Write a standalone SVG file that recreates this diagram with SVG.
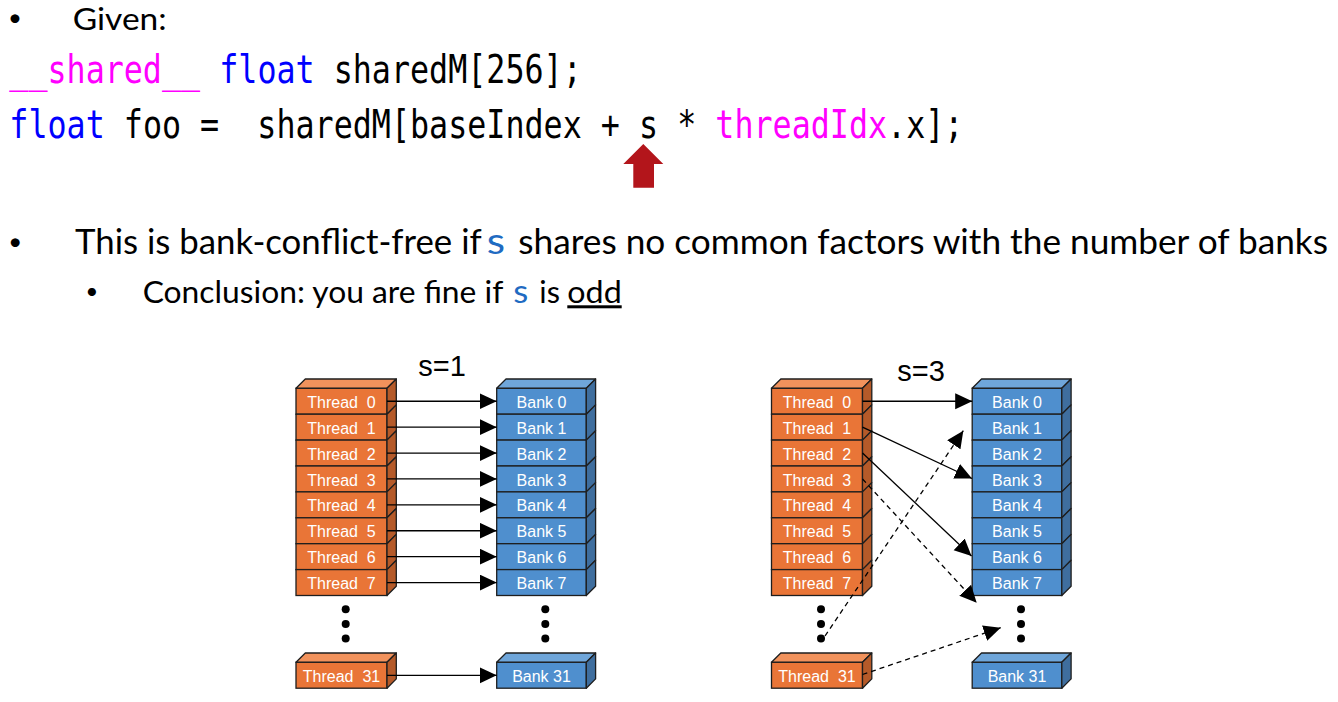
<svg xmlns="http://www.w3.org/2000/svg" xmlns:xlink="http://www.w3.org/1999/xlink" width="1338" height="702" viewBox="0 0 1338 702">
<style>
.body{font-family:Lato,"Open Sans","Liberation Sans",sans-serif;fill:#000}
.blue{fill:#1F6BC2}
.code{font-family:"DejaVu Sans Mono","Liberation Mono",monospace;font-size:31.7px;fill:#000}
.mag{fill:#FF00FF}
.kw{fill:#0000FF}
.tf{fill:#E97537;stroke:#1E1E1E;stroke-width:1.3}
.ts{fill:#B55A29;stroke:#1E1E1E;stroke-width:1.3;stroke-linejoin:round}
.tt{fill:#F1925C;stroke:#1E1E1E;stroke-width:1.3;stroke-linejoin:round}
.bf{fill:#4F8FCE;stroke:#1E1E1E;stroke-width:1.3}
.bs{fill:#3F6E9E;stroke:#1E1E1E;stroke-width:1.3;stroke-linejoin:round}
.bt{fill:#6FA6DA;stroke:#1E1E1E;stroke-width:1.3;stroke-linejoin:round}
.lbl{font-family:"Liberation Sans",Arial,sans-serif;font-size:16px;fill:#fff;text-anchor:middle;white-space:pre}
.title{font-family:"Liberation Sans",Arial,sans-serif;font-size:29px;fill:#000;text-anchor:middle}
.c{stroke:#000;stroke-width:1.3;fill:none}
.d{stroke:#000;stroke-width:1.3;fill:none;stroke-dasharray:5,4}
.dot{fill:#000}
</style>
<defs>
<marker id="ah" markerUnits="userSpaceOnUse" markerWidth="18" markerHeight="17" refX="17" refY="8" orient="auto">
<path d="M0,0 L17,8 L0,16 Z" fill="#000"/>
</marker>
<g id="trow"><rect x="0" y="0" width="91" height="25.9" class="tf"/><polygon points="91,0 100.3,-9.3 100.3,16.6 91,25.9" class="ts"/></g>
<g id="ttop"><polygon points="0,0 9.3,-9.3 100.3,-9.3 91,0" class="tt"/></g>
<g id="brow"><rect x="0" y="0" width="89.6" height="25.9" class="bf"/><polygon points="89.6,0 98.9,-9.3 98.9,16.6 89.6,25.9" class="bs"/></g>
<g id="btop"><polygon points="0,0 9.3,-9.3 98.9,-9.3 89.6,0" class="bt"/></g>
</defs>

<g id="text-top">
<text class="body" x="15" y="26" font-size="24" text-anchor="middle">•</text>
<text class="body" x="72.7" y="29.5" font-size="30" textLength="94" lengthAdjust="spacingAndGlyphs">Given:</text>
<text class="code" transform="translate(9.3,83.3) scale(1,1.25)" xml:space="preserve"><tspan class="mag">__shared__</tspan> <tspan class="kw">float</tspan> sharedM[256];</text>
<text class="code" transform="translate(9.3,138.3) scale(1,1.25)" xml:space="preserve"><tspan class="kw">float</tspan> foo =  sharedM[baseIndex + s * <tspan class="mag">threadIdx</tspan>.x];</text>
<polygon id="red-arrow" points="643.3,144 663.3,164 654,164 654,187.7 633.3,187.7 633.3,164 623.3,164" fill="#B3151B"/>
<text class="body" x="15.3" y="250" font-size="24" text-anchor="middle">•</text>
<text class="body" x="75" y="254.3" font-size="34" textLength="406.7" lengthAdjust="spacingAndGlyphs">This is bank-conflict-free if</text>
<text class="body blue" x="486.7" y="254.3" font-size="36" textLength="18.3" lengthAdjust="spacingAndGlyphs">s</text>
<text class="body" x="518.3" y="254.3" font-size="34" textLength="809.7" lengthAdjust="spacingAndGlyphs">shares no common factors with the number of banks</text>
<text class="body" x="92" y="299" font-size="22" text-anchor="middle">•</text>
<text class="body" x="142.7" y="303.3" font-size="30" textLength="360.6" lengthAdjust="spacingAndGlyphs">Conclusion: you are fine if</text>
<text class="body blue" x="513.3" y="303.3" font-size="32" textLength="15" lengthAdjust="spacingAndGlyphs">s</text>
<text class="body" x="539.3" y="303.3" font-size="30" textLength="20.7" lengthAdjust="spacingAndGlyphs">is</text>
<text class="body" x="567.3" y="303.3" font-size="30" textLength="54.4" lengthAdjust="spacingAndGlyphs" text-decoration="underline">odd</text>
</g>

<text id="title-s1" class="title" x="442" y="375.5">s=1</text>
<text id="title-s3" class="title" x="921" y="380.5">s=3</text>

<!-- Left diagram: threads -->
<g id="l-thread-0" transform="translate(296,388.3)"><use href="#ttop"/><use href="#trow"/><text class="lbl" x="45.5" y="19.6">Thread  0</text></g>
<g id="l-thread-1" transform="translate(296,414.2)"><use href="#trow"/><text class="lbl" x="45.5" y="19.6">Thread  1</text></g>
<g id="l-thread-2" transform="translate(296,440.1)"><use href="#trow"/><text class="lbl" x="45.5" y="19.6">Thread  2</text></g>
<g id="l-thread-3" transform="translate(296,466)"><use href="#trow"/><text class="lbl" x="45.5" y="19.6">Thread  3</text></g>
<g id="l-thread-4" transform="translate(296,491.9)"><use href="#trow"/><text class="lbl" x="45.5" y="19.6">Thread  4</text></g>
<g id="l-thread-5" transform="translate(296,517.8)"><use href="#trow"/><text class="lbl" x="45.5" y="19.6">Thread  5</text></g>
<g id="l-thread-6" transform="translate(296,543.7)"><use href="#trow"/><text class="lbl" x="45.5" y="19.6">Thread  6</text></g>
<g id="l-thread-7" transform="translate(296,569.6)"><use href="#trow"/><text class="lbl" x="45.5" y="19.6">Thread  7</text></g>
<g id="l-thread-dots"><circle class="dot" cx="345.7" cy="609.3" r="4"/><circle class="dot" cx="345.7" cy="624" r="4"/><circle class="dot" cx="345.7" cy="638.5" r="4"/></g>
<g id="l-thread-31" transform="translate(296,662.3)"><use href="#ttop"/><use href="#trow"/><text class="lbl" x="45.5" y="19.9">Thread  31</text></g>

<!-- Left diagram: banks -->
<g id="l-bank-0" transform="translate(496.7,388.3)"><use href="#btop"/><use href="#brow"/><text class="lbl" x="44.8" y="19.6">Bank 0</text></g>
<g id="l-bank-1" transform="translate(496.7,414.2)"><use href="#brow"/><text class="lbl" x="44.8" y="19.6">Bank 1</text></g>
<g id="l-bank-2" transform="translate(496.7,440.1)"><use href="#brow"/><text class="lbl" x="44.8" y="19.6">Bank 2</text></g>
<g id="l-bank-3" transform="translate(496.7,466)"><use href="#brow"/><text class="lbl" x="44.8" y="19.6">Bank 3</text></g>
<g id="l-bank-4" transform="translate(496.7,491.9)"><use href="#brow"/><text class="lbl" x="44.8" y="19.6">Bank 4</text></g>
<g id="l-bank-5" transform="translate(496.7,517.8)"><use href="#brow"/><text class="lbl" x="44.8" y="19.6">Bank 5</text></g>
<g id="l-bank-6" transform="translate(496.7,543.7)"><use href="#brow"/><text class="lbl" x="44.8" y="19.6">Bank 6</text></g>
<g id="l-bank-7" transform="translate(496.7,569.6)"><use href="#brow"/><text class="lbl" x="44.8" y="19.6">Bank 7</text></g>
<g id="l-bank-dots"><circle class="dot" cx="545.3" cy="609.3" r="4"/><circle class="dot" cx="545.3" cy="624" r="4"/><circle class="dot" cx="545.3" cy="638.5" r="4"/></g>
<g id="l-bank-31" transform="translate(496.7,662.3)"><use href="#btop"/><use href="#brow"/><text class="lbl" x="44.8" y="19.9">Bank 31</text></g>

<!-- Right diagram: threads -->
<g id="r-thread-0" transform="translate(771.5,388.3)"><use href="#ttop"/><use href="#trow"/><text class="lbl" x="45.5" y="19.6">Thread  0</text></g>
<g id="r-thread-1" transform="translate(771.5,414.2)"><use href="#trow"/><text class="lbl" x="45.5" y="19.6">Thread  1</text></g>
<g id="r-thread-2" transform="translate(771.5,440.1)"><use href="#trow"/><text class="lbl" x="45.5" y="19.6">Thread  2</text></g>
<g id="r-thread-3" transform="translate(771.5,466)"><use href="#trow"/><text class="lbl" x="45.5" y="19.6">Thread  3</text></g>
<g id="r-thread-4" transform="translate(771.5,491.9)"><use href="#trow"/><text class="lbl" x="45.5" y="19.6">Thread  4</text></g>
<g id="r-thread-5" transform="translate(771.5,517.8)"><use href="#trow"/><text class="lbl" x="45.5" y="19.6">Thread  5</text></g>
<g id="r-thread-6" transform="translate(771.5,543.7)"><use href="#trow"/><text class="lbl" x="45.5" y="19.6">Thread  6</text></g>
<g id="r-thread-7" transform="translate(771.5,569.6)"><use href="#trow"/><text class="lbl" x="45.5" y="19.6">Thread  7</text></g>
<g id="r-thread-dots"><circle class="dot" cx="821" cy="609.3" r="4"/><circle class="dot" cx="821" cy="624" r="4"/><circle class="dot" cx="821" cy="638.5" r="4"/></g>
<g id="r-thread-31" transform="translate(771.5,662.3)"><use href="#ttop"/><use href="#trow"/><text class="lbl" x="45.5" y="19.9">Thread  31</text></g>

<!-- Right diagram: banks -->
<g id="r-bank-0" transform="translate(972.2,388.3)"><use href="#btop"/><use href="#brow"/><text class="lbl" x="44.8" y="19.6">Bank 0</text></g>
<g id="r-bank-1" transform="translate(972.2,414.2)"><use href="#brow"/><text class="lbl" x="44.8" y="19.6">Bank 1</text></g>
<g id="r-bank-2" transform="translate(972.2,440.1)"><use href="#brow"/><text class="lbl" x="44.8" y="19.6">Bank 2</text></g>
<g id="r-bank-3" transform="translate(972.2,466)"><use href="#brow"/><text class="lbl" x="44.8" y="19.6">Bank 3</text></g>
<g id="r-bank-4" transform="translate(972.2,491.9)"><use href="#brow"/><text class="lbl" x="44.8" y="19.6">Bank 4</text></g>
<g id="r-bank-5" transform="translate(972.2,517.8)"><use href="#brow"/><text class="lbl" x="44.8" y="19.6">Bank 5</text></g>
<g id="r-bank-6" transform="translate(972.2,543.7)"><use href="#brow"/><text class="lbl" x="44.8" y="19.6">Bank 6</text></g>
<g id="r-bank-7" transform="translate(972.2,569.6)"><use href="#brow"/><text class="lbl" x="44.8" y="19.6">Bank 7</text></g>
<g id="r-bank-dots"><circle class="dot" cx="1021" cy="609.3" r="4"/><circle class="dot" cx="1021" cy="624" r="4"/><circle class="dot" cx="1021" cy="638.5" r="4"/></g>
<g id="r-bank-31" transform="translate(972.2,662.3)"><use href="#btop"/><use href="#brow"/><text class="lbl" x="44.8" y="19.9">Bank 31</text></g>

<g id="connectors">
<line class="c" x1="387" y1="401.25" x2="496.7" y2="401.25" marker-end="url(#ah)"/>
<line class="c" x1="387" y1="427.15" x2="496.7" y2="427.15" marker-end="url(#ah)"/>
<line class="c" x1="387" y1="453.05" x2="496.7" y2="453.05" marker-end="url(#ah)"/>
<line class="c" x1="387" y1="478.95" x2="496.7" y2="478.95" marker-end="url(#ah)"/>
<line class="c" x1="387" y1="504.85" x2="496.7" y2="504.85" marker-end="url(#ah)"/>
<line class="c" x1="387" y1="530.75" x2="496.7" y2="530.75" marker-end="url(#ah)"/>
<line class="c" x1="387" y1="556.65" x2="496.7" y2="556.65" marker-end="url(#ah)"/>
<line class="c" x1="387" y1="582.55" x2="496.7" y2="582.55" marker-end="url(#ah)"/>
<line class="c" x1="387" y1="675.3" x2="496.7" y2="675.3" marker-end="url(#ah)"/>

<line class="c" x1="862.5" y1="401.25" x2="972.2" y2="401.25" marker-end="url(#ah)"/>
<line class="c" x1="862.5" y1="427.2" x2="972" y2="478.5" marker-end="url(#ah)"/>
<line class="c" x1="862.5" y1="453" x2="971.5" y2="556" marker-end="url(#ah)"/>
<line class="d" x1="862.5" y1="479" x2="976.7" y2="602.7" marker-end="url(#ah)"/>
<line class="d" x1="825" y1="636" x2="963.3" y2="430.7" marker-end="url(#ah)"/>
<line class="d" x1="862.5" y1="674.5" x2="1000.7" y2="627.7" marker-end="url(#ah)"/>
</g>
</svg>
